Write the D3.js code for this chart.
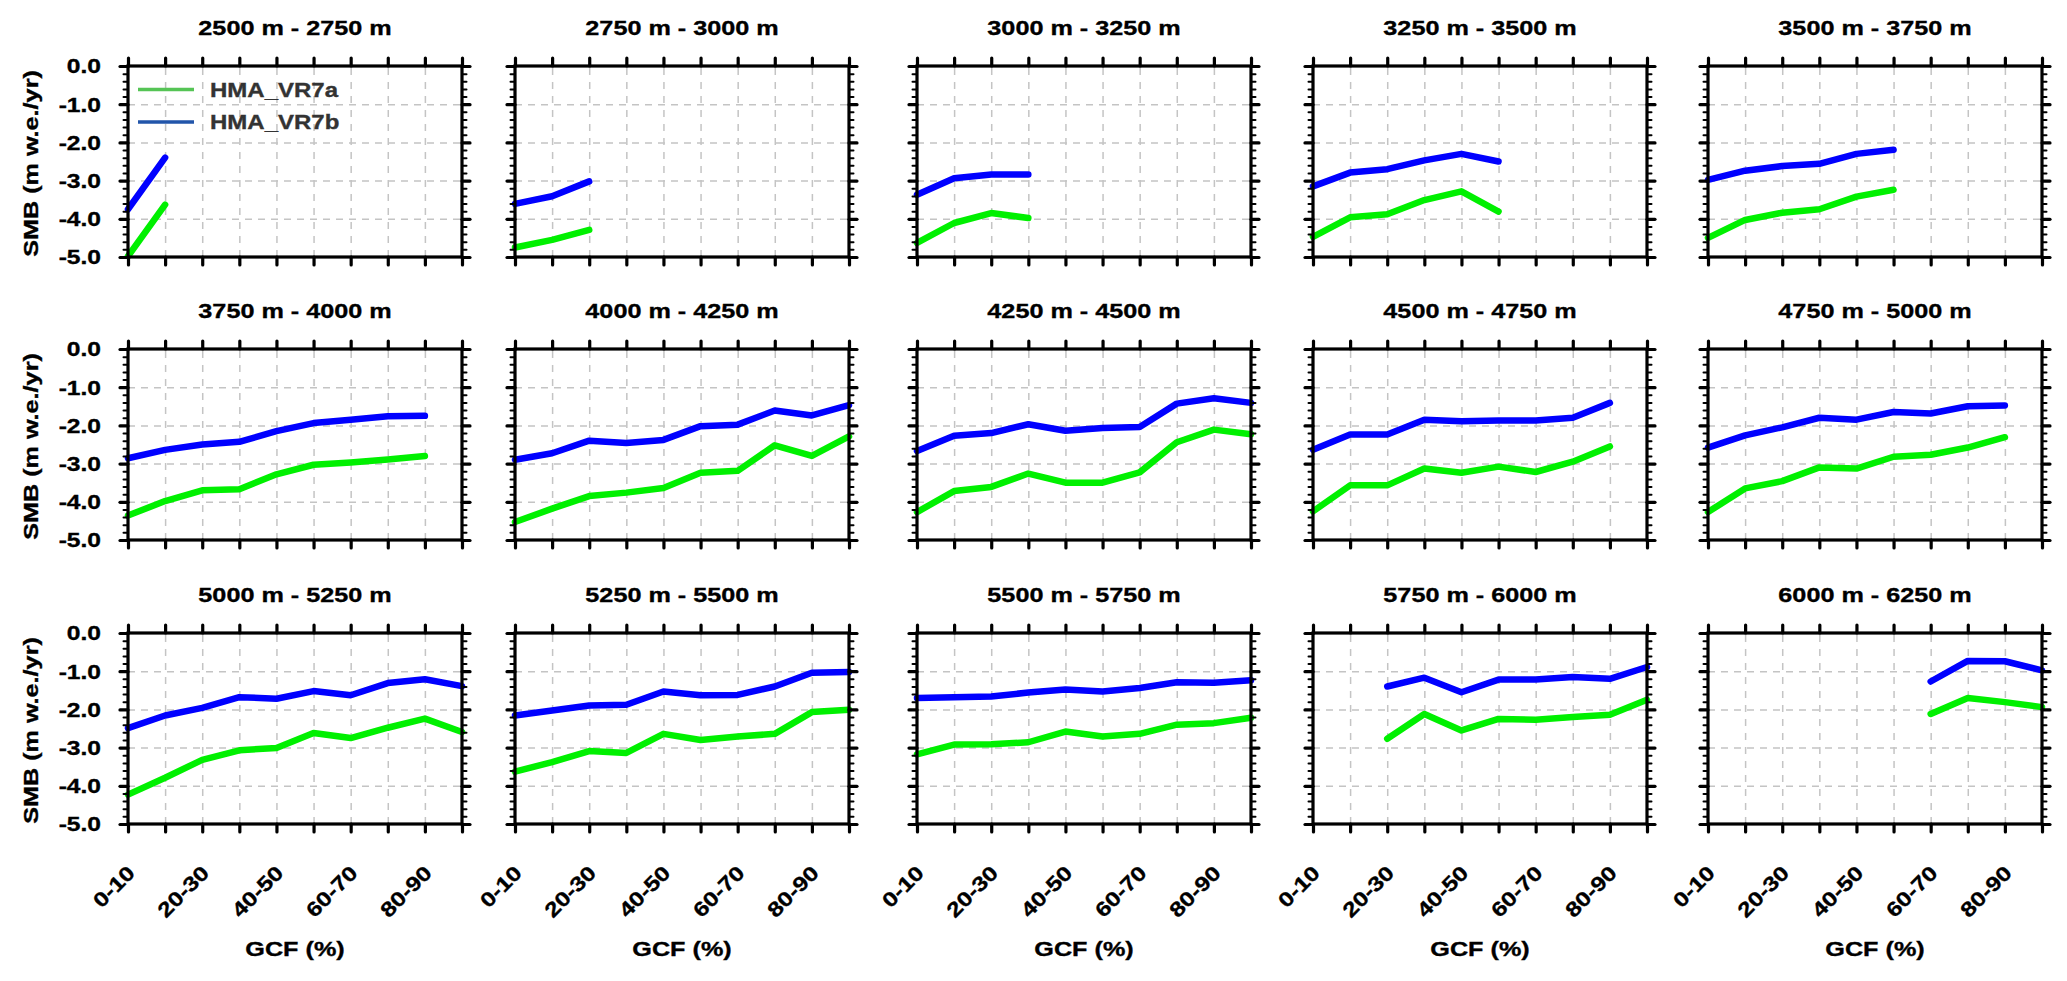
<!DOCTYPE html>
<html>
<head>
<meta charset="utf-8">
<script src="https://cdn.jsdelivr.net/npm/d3@7"></script>
<style>
  body { margin: 0; background: #fff; }
  text { font-family: "Liberation Sans", Arial, Helvetica, sans-serif; font-weight: bold; fill: #000; }
</style>
</head>
<body>
<svg id="chart" width="2067" height="981"></svg>
<script>
// GCF bins on the x axis
const gcfBins = ['0-10', '10-20', '20-30', '30-40', '40-50', '50-60', '60-70', '70-80', '80-90', '90-100'];
const gcfLabelled = ['0-10', '20-30', '40-50', '60-70', '80-90'];

// elevation band of each panel
const bandTitles = [
  '2500 m - 2750 m', '2750 m - 3000 m', '3000 m - 3250 m', '3250 m - 3500 m', '3500 m - 3750 m',
  '3750 m - 4000 m', '4000 m - 4250 m', '4250 m - 4500 m', '4500 m - 4750 m', '4750 m - 5000 m',
  '5000 m - 5250 m', '5250 m - 5500 m', '5500 m - 5750 m', '5750 m - 6000 m', '6000 m - 6250 m'
];

const seriesNames = ['HMA_VR7a', 'HMA_VR7b'];
const yTickValues = [0, -1, -2, -3, -4, -5];

// SMB (m w.e./yr), HMA_VR7a, one row per elevation band
const smbVR7a = [
  [-4.98, -3.63, null, null, null, null, null, null, null, null],
  [-4.75, -4.55, -4.29, null, null, null, null, null, null, null],
  [-4.63, -4.11, -3.85, -3.98, null, null, null, null, null, null],
  [-4.47, -3.96, -3.88, -3.51, -3.28, -3.81, null, null, null, null],
  [-4.50, -4.03, -3.84, -3.75, -3.42, -3.24, null, null, null, null],
  [-4.36, -3.98, -3.70, -3.67, -3.28, -3.03, -2.97, -2.89, -2.80, null],
  [-4.53, -4.18, -3.85, -3.76, -3.64, -3.24, -3.19, -2.52, -2.80, -2.29],
  [-4.27, -3.72, -3.61, -3.26, -3.50, -3.50, -3.23, -2.44, -2.11, -2.23],
  [-4.25, -3.57, -3.57, -3.13, -3.24, -3.08, -3.22, -2.95, -2.55, null],
  [-4.27, -3.65, -3.46, -3.10, -3.13, -2.82, -2.77, -2.58, -2.31, null],
  [-4.23, -3.79, -3.32, -3.07, -3.01, -2.62, -2.75, -2.48, -2.24, -2.59],
  [-3.63, -3.38, -3.09, -3.14, -2.64, -2.80, -2.71, -2.64, -2.07, -2.01],
  [-3.18, -2.92, -2.91, -2.86, -2.58, -2.71, -2.64, -2.40, -2.36, -2.22],
  [null, null, -2.77, -2.12, -2.55, -2.25, -2.27, -2.20, -2.14, -1.75],
  [null, null, null, null, null, null, -2.12, -1.70, -1.81, -1.94]
];

// SMB (m w.e./yr), HMA_VR7b
const smbVR7b = [
  [-3.75, -2.40, null, null, null, null, null, null, null, null],
  [-3.61, -3.41, -3.02, null, null, null, null, null, null, null],
  [-3.37, -2.94, -2.84, -2.84, null, null, null, null, null, null],
  [-3.15, -2.79, -2.70, -2.47, -2.30, -2.50, null, null, null, null],
  [-2.98, -2.74, -2.62, -2.56, -2.30, -2.19, null, null, null, null],
  [-2.86, -2.64, -2.50, -2.43, -2.15, -1.94, -1.85, -1.76, -1.75, null],
  [-2.90, -2.73, -2.40, -2.46, -2.38, -2.02, -1.98, -1.61, -1.74, -1.47],
  [-2.67, -2.27, -2.20, -1.97, -2.14, -2.07, -2.04, -1.43, -1.29, -1.41],
  [-2.64, -2.24, -2.24, -1.85, -1.89, -1.87, -1.87, -1.80, -1.41, null],
  [-2.58, -2.26, -2.05, -1.80, -1.85, -1.65, -1.69, -1.50, -1.48, null],
  [-2.49, -2.16, -1.96, -1.68, -1.72, -1.52, -1.63, -1.31, -1.21, -1.39],
  [-2.16, -2.03, -1.90, -1.88, -1.53, -1.63, -1.62, -1.40, -1.04, -1.02],
  [-1.70, -1.68, -1.66, -1.56, -1.48, -1.53, -1.44, -1.29, -1.30, -1.24],
  [null, null, -1.40, -1.17, -1.55, -1.22, -1.22, -1.15, -1.20, -0.89],
  [null, null, null, null, null, null, -1.27, -0.73, -0.74, -0.98]
];

// layout
const colLeft = [128, 515, 917, 1313, 1708];
const rowTop = [66, 349, 633];
const pw = 334, ph = 191;
const stretch = 1.2;   // the original font is wider than Liberation Sans
const lineColors = ['#00f000', '#0000ff'];
const legendColors = ['#55c455', '#2255aa'];

const svg = d3.select('#chart');

const x = d3.scalePoint().domain(gcfBins).range([0, pw]);
const y = d3.scaleLinear().domain([-5, 0]).range([ph, 0]);
const minorTicks = d3.range(0, 26).map(i => -5 + i * 0.2)
    .filter(v => Math.abs(v - Math.round(v)) > 0.01);

// stretched bold text
function label(g, px, py, str, size, anchor, rot) {
    return g.append('g')
        .attr('transform', `translate(${px},${py}) rotate(${rot || 0}) scale(${stretch},1)`)
        .append('text')
        .attr('text-anchor', anchor)
        .style('font-size', size + 'px')
        .style('stroke', '#000').style('stroke-width', 0.35)
        .text(str);
}

function styleAxis(sel, width, dash, color) {
    sel.select('.domain').remove();
    sel.selectAll('.tick line')
        .attr('stroke', color || '#000')
        .attr('stroke-width', width)
        .attr('stroke-linecap', dash ? 'butt' : 'round')
        .attr('stroke-dasharray', dash || null);
    sel.selectAll('.tick text').remove();
}

const line = d3.line()
    .defined(d => d != null)
    .x((d, i) => x(gcfBins[i]))
    .y(d => y(d));

bandTitles.forEach((title, p) => {
    const col = p % 5, row = Math.floor(p / 5);
    const g = svg.append('g').attr('transform', `translate(${colLeft[col]},${rowTop[row]})`);

    // dashed grid
    g.append('g')
        .call(d3.axisLeft(y).tickValues([-1, -2, -3, -4]).tickSize(-pw).tickFormat(''))
        .call(s => styleAxis(s, 1.5, '7,6', '#c4c4c4'));
    g.append('g').attr('transform', `translate(0,${ph})`)
        .call(d3.axisBottom(x).tickValues(gcfBins.slice(1, 9)).tickSize(-ph).tickFormat(''))
        .call(s => styleAxis(s, 1.5, '7,7', '#c4c4c4'));

    // data lines
    [smbVR7a[p], smbVR7b[p]].forEach((vals, k) => {
        g.append('path')
            .datum(vals)
            .attr('d', line)
            .attr('fill', 'none')
            .attr('stroke', lineColors[k])
            .attr('stroke-width', 6.5)
            .attr('stroke-linecap', 'round')
            .attr('stroke-linejoin', 'round');
    });

    // frame
    g.append('rect')
        .attr('width', pw).attr('height', ph)
        .attr('fill', 'none').attr('stroke', '#000').attr('stroke-width', 3.2);

    // tick marks, all outward
    g.append('g').attr('transform', `translate(0,${ph})`)
        .call(d3.axisBottom(x).tickSize(8).tickFormat(''))
        .call(s => styleAxis(s, 3.2));
    g.append('g')
        .call(d3.axisTop(x).tickSize(8).tickFormat(''))
        .call(s => styleAxis(s, 3.2));
    g.append('g')
        .call(d3.axisLeft(y).tickValues(yTickValues).tickSize(8).tickFormat(''))
        .call(s => styleAxis(s, 3.2));
    g.append('g')
        .call(d3.axisLeft(y).tickValues(minorTicks).tickSize(4.5).tickFormat(''))
        .call(s => styleAxis(s, 2));
    g.append('g').attr('transform', `translate(${pw},0)`)
        .call(d3.axisRight(y).tickValues(yTickValues).tickSize(8).tickFormat(''))
        .call(s => styleAxis(s, 3.2));
    g.append('g').attr('transform', `translate(${pw},0)`)
        .call(d3.axisRight(y).tickValues(minorTicks).tickSize(4.5).tickFormat(''))
        .call(s => styleAxis(s, 2));

    // panel title
    label(g, pw / 2, -31, title, 21, 'middle');

    if (col === 0) {
        yTickValues.forEach(v => {
            label(g, -27, y(v), v.toFixed(1), 20.5, 'end').attr('dy', '0.36em');
        });
        label(g, -90, ph / 2 + 2, 'SMB (m w.e./yr)', 21, 'middle', -90);
    }

    if (row === 2) {
        gcfLabelled.forEach(c => {
            label(g, x(c) + 3, ph + 45, c, 20.5, 'end', -45).attr('dy', '0.36em');
        });
        label(g, pw / 2, ph + 132, 'GCF (%)', 21, 'middle');
    }

    // legend in the first panel
    if (p === 0) {
        seriesNames.forEach((name, k) => {
            const ly = 23.5 + k * 32.5;
            g.append('line')
                .attr('x1', 10).attr('x2', 66)
                .attr('y1', ly).attr('y2', ly)
                .attr('stroke', legendColors[k]).attr('stroke-width', 3.5);
            label(g, 82, ly, name, 20, 'start').attr('dy', '0.36em')
                .style('fill', '#333').style('stroke', '#333');
        });
    }
});
</script>
</body>
</html>
